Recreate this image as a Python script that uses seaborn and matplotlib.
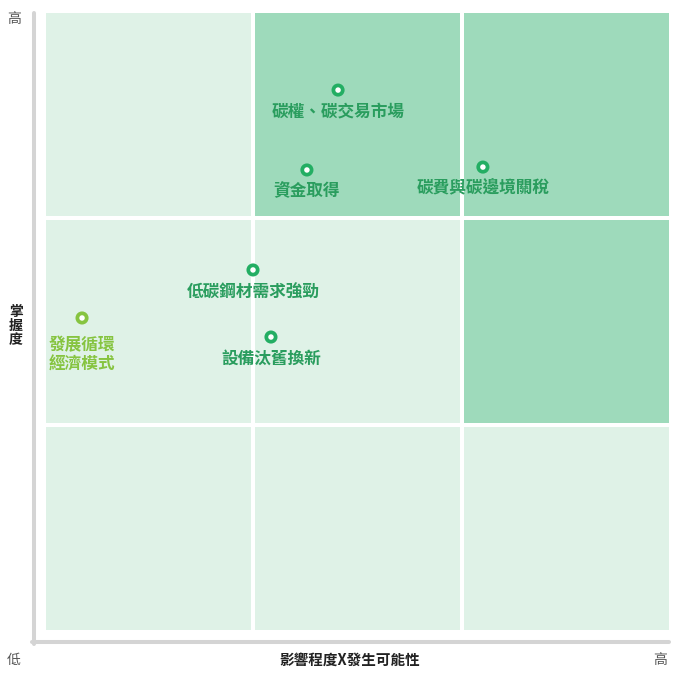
import numpy as np
import pandas as pd
import seaborn as sns
import matplotlib.pyplot as plt
from matplotlib.colors import ListedColormap
from matplotlib.lines import Line2D

# kleuren van de vakken: 0 = licht, 1 = donker (rij 0 = bovenaan)
vak_niveau = [[0, 1, 1],
              [0, 0, 1],
              [0, 0, 0]]

# risico's: naam, x (impact x kans), y (beheersing), groep
namen = ["碳權、碳交易市場", "資金取得", "碳費與碳邊境關稅",
         "低碳鋼材需求強勁", "設備汰舊換新", "發展循環\n經濟模式"]
impact = [1.407, 1.258, 2.100, 1.000, 1.086, 0.182]
beheersing = [2.618, 2.232, 2.246, 1.749, 1.425, 1.517]
groep = ["a", "a", "a", "a", "a", "b"]

kleuren = {"a": "#23ae63", "b": "#86c440"}
tekst_kleuren = {"a": "#2a9d5e", "b": "#86c440"}

sns.set_style("white")
plt.rcParams['font.family'] = ['Noto Sans CJK TC', 'DejaVu Sans']

fig = plt.figure(figsize=(6.8, 6.8), dpi=100)
ax = fig.add_axes([44 / 680, 48 / 680, 627 / 680, 621 / 680])

sns.heatmap(np.array(vak_niveau), ax=ax, cmap=ListedColormap(["#dff2e7", "#9edabb"]),
            cbar=False, linewidths=2.6, linecolor="white", vmin=0, vmax=1)
ax.set_xticks([])
ax.set_yticks([])
for s in ax.spines.values():
    s.set_visible(False)

df = pd.DataFrame({"naam": namen, "x": impact, "y": beheersing, "groep": groep})
df["y_plot"] = 3 - df["y"]  # heatmap heeft omgekeerde y-as

sns.scatterplot(data=df, x="x", y="y_plot", hue="groep", palette=kleuren, ax=ax,
                s=45, facecolor="white", linewidth=2.7, legend=False, zorder=5)
# ringen: wit midden, gekleurde rand
for coll in ax.collections[1:]:
    ec = [kleuren[g] for g in df["groep"]]
    coll.set_edgecolors(ec)
    coll.set_facecolors("white")

for _, r in df.iterrows():
    if "\n" in r["naam"]:
        ax.annotate(r["naam"], (r["x"], r["y_plot"]), xytext=(0, -13), textcoords="offset points",
                    ha="center", va="top", fontsize=12, fontweight="bold",
                    color=tekst_kleuren[r["groep"]], linespacing=1.1)
    else:
        ax.annotate(r["naam"], (r["x"], r["y_plot"]), xytext=(0, -15.5), textcoords="offset points",
                    ha="center", va="center", fontsize=12, fontweight="bold",
                    color=tekst_kleuren[r["groep"]])

ax.set_xlim(0, 3)
ax.set_ylim(3, 0)

# grijze assen
grijs = "#d4d4d4"
fig.add_artist(Line2D([34 / 680, 34 / 680], [1 - 13 / 680, 1 - 644 / 680],
                      color=grijs, linewidth=2.9, transform=fig.transFigure))
fig.add_artist(Line2D([32 / 680, 669 / 680], [1 - 642 / 680, 1 - 642 / 680],
                      color=grijs, linewidth=2.9, transform=fig.transFigure))

fig.text(14 / 680, 1 - 19 / 680, "高", ha="center", va="center", fontsize=10, color="#555555")
fig.text(14 / 680, 1 - 660 / 680, "低", ha="center", va="center", fontsize=10, color="#555555")
fig.text(660 / 680, 1 - 660 / 680, "高", ha="center", va="center", fontsize=10, color="#555555")
fig.text(350 / 680, 1 - 660 / 680, "影響程度X發生可能性", ha="center", va="center",
         fontsize=10.5, fontweight="bold", color="#222222")
fig.text(16 / 680, 1 - 326 / 680, "掌\n握\n度", ha="center", va="center",
         fontsize=10, fontweight="bold", color="#222222", linespacing=1.0)

fig.savefig("out.png", dpi=100)
